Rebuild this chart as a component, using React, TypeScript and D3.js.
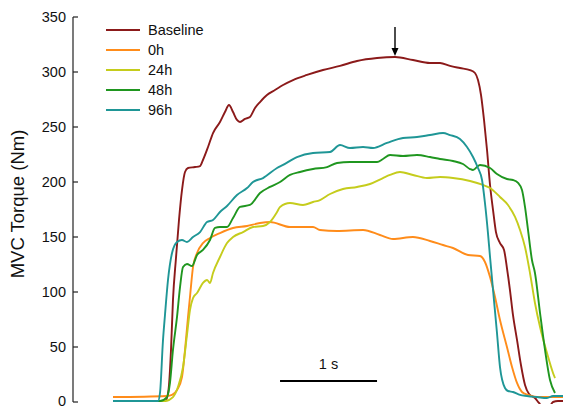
import React from "react";
import * as d3 from "d3";

type Pt = [number, number];

const seriesNames = ["Baseline", "0h", "24h", "48h", "96h"];
const seriesColors = ["#8b1a1a", "#ff8c1a", "#c5cc1c", "#1f961f", "#1f9696"];

const baseline: Pt[] = [[0,0.9],[0.372,0.9],[0.553,0.9],[0.574,3.6],[0.596,15.5],[0.617,47.3],[0.638,92.7],[0.670,130.9],[0.702,165.5],[0.734,192.7],[0.766,209.1],[0.798,212.7],[0.872,213.6],[0.926,214.5],[0.957,220],[1.011,231.8],[1.064,244.5],[1.138,254.5],[1.191,263.6],[1.234,270],[1.277,263.6],[1.319,256.4],[1.351,254.5],[1.404,257.3],[1.457,259.1],[1.511,267.3],[1.564,272.7],[1.638,279.1],[1.723,283.6],[1.809,288.2],[1.915,292.7],[2.064,297.3],[2.234,301.8],[2.415,305.5],[2.596,310],[2.809,312.7],[3.0,313.6],[3.191,310.9],[3.372,308.2],[3.479,308.2],[3.585,305.5],[3.691,303.6],[3.798,301.8],[3.851,299.1],[3.883,292.7],[3.915,279.1],[3.947,256.4],[3.979,229.1],[4.011,197.3],[4.043,174.5],[4.074,154.5],[4.117,144.5],[4.160,138.2],[4.191,121.8],[4.223,101.8],[4.255,79.1],[4.298,56.4],[4.340,33.6],[4.383,15.5],[4.426,7.3],[4.489,3.6],[4.532,-0.9],[4.574,-4.5],[4.638,-4.5],[4.681,0],[4.734,0.9],[4.787,0.9]];

const h0: Pt[] = [[0,4.5],[0.574,5.5],[0.628,6.4],[0.681,10.9],[0.734,22.7],[0.766,47.3],[0.798,77.3],[0.819,95.5],[0.851,122.7],[0.894,135.5],[0.957,144.5],[1.032,149.1],[1.138,153.6],[1.277,158.2],[1.426,160],[1.564,162.7],[1.670,163.6],[1.883,159.1],[2.128,159.1],[2.202,156.4],[2.383,155.5],[2.660,156.4],[2.840,151.8],[2.979,148.2],[3.191,150],[3.372,146.4],[3.511,142.7],[3.617,140],[3.777,133.6],[3.904,132.7],[3.957,127.3],[4.011,113.6],[4.064,95.5],[4.117,74.5],[4.191,50],[4.245,31.8],[4.298,17.3],[4.351,9.1],[4.415,6.4],[4.511,4.5],[4.649,4.5],[4.787,4.5]];

const h24: Pt[] = [[0,0.9],[0.553,0.9],[0.638,4.5],[0.691,13.6],[0.745,31.8],[0.787,60.9],[0.819,83.6],[0.851,94.5],[0.894,99.1],[0.957,108.2],[1.0,110.9],[1.032,108.2],[1.064,117.3],[1.138,131.8],[1.213,144.5],[1.277,150],[1.383,154.5],[1.489,159.1],[1.596,160],[1.670,163.6],[1.745,172.7],[1.777,177.3],[1.883,180.9],[2.021,179.1],[2.128,181.8],[2.202,183.6],[2.309,189.1],[2.447,193.6],[2.596,195.5],[2.734,198.2],[2.872,203.6],[2.947,206.4],[3.053,209.1],[3.191,206.4],[3.340,203.6],[3.479,204.5],[3.617,203.6],[3.798,200.9],[3.936,197.3],[4.011,194.5],[4.117,186.4],[4.202,179.1],[4.277,168.2],[4.330,156.4],[4.383,140.9],[4.436,117.3],[4.489,90],[4.543,68.2],[4.617,44.5],[4.681,26.4],[4.702,21.8]];

const h48: Pt[] = [[0,0.9],[0.5,0.9],[0.574,4.5],[0.606,17.3],[0.638,47.3],[0.681,77.3],[0.713,104.5],[0.745,122.7],[0.787,125.5],[0.840,123.6],[0.894,133.6],[0.957,138.2],[1.032,147.3],[1.085,158.2],[1.138,159.1],[1.213,159.1],[1.277,167.3],[1.351,177.3],[1.457,179.1],[1.564,190],[1.670,195.5],[1.777,200],[1.883,206.4],[1.989,209.1],[2.128,211.8],[2.277,213.6],[2.383,217.3],[2.521,218.2],[2.809,218.2],[2.872,220.9],[2.947,224.5],[3.085,223.6],[3.234,224.5],[3.372,222.7],[3.479,220.9],[3.617,219.1],[3.723,216.4],[3.798,211.8],[3.830,210.9],[3.904,215.5],[4.011,212.7],[4.085,207.3],[4.191,202.7],[4.255,201.8],[4.309,199.1],[4.351,192.7],[4.383,177.3],[4.415,156.4],[4.457,129.1],[4.489,117.3],[4.543,80.9],[4.596,47.3],[4.649,20],[4.702,8.2]];

const h96: Pt[] = [[0,0.9],[0.479,0.9],[0.5,8.2],[0.532,56.4],[0.553,79.1],[0.585,110.9],[0.628,135.5],[0.681,145.5],[0.734,147.3],[0.787,145.5],[0.851,150],[0.926,154.5],[1.0,163.6],[1.064,165.5],[1.138,172.7],[1.213,178.2],[1.319,188.2],[1.426,194.5],[1.489,200],[1.596,203.6],[1.745,212.7],[1.809,215.5],[1.957,222.7],[2.128,226.4],[2.309,227.3],[2.415,233.6],[2.521,230.9],[2.660,231.8],[2.766,230.9],[2.915,235.5],[3.085,240],[3.234,240.9],[3.372,242.7],[3.511,244.5],[3.585,242.7],[3.691,239.1],[3.766,231.8],[3.830,222.7],[3.883,212.7],[3.926,201.8],[3.957,180.9],[3.989,153.6],[4.011,131.8],[4.043,101.8],[4.085,62.7],[4.117,31.8],[4.170,12.7],[4.202,10],[4.255,9.1],[4.330,6.4],[4.404,5.5],[4.511,4.5],[4.617,3.6],[4.681,5.5],[4.787,5.5]];

const seriesData: Pt[][] = [baseline, h0, h24, h48, h96];
const yTicks = [0, 50, 100, 150, 200, 250, 300, 350];
const peakTime = 3.0;
const scaleBarStart = 1.777;
const scaleBarLength = 1;
const scaleBarLabel = "1 s";
const yTitle = "MVC Torque (Nm)";

export default function App() {
  const W = 563, H = 408;
  const x = d3.scaleLinear().domain([0, 4.8]).range([113, 113 + 4.8 * 94]);
  const y = d3.scaleLinear().domain([0, 350]).range([402, 17]);
  const line = d3.line<Pt>().x(d => x(d[0])).y(d => y(d[1])).curve(d3.curveMonotoneX);
  const font = "'Liberation Sans', Arial, sans-serif";
  const axisX = 73;
  const ax = x(peakTime);
  const bx0 = x(scaleBarStart), bx1 = x(scaleBarStart + scaleBarLength);
  return (
    <svg width={W} height={H} style={{ position: "absolute", left: 0, top: 0, background: "#fff" }} fontFamily={font}>
      <defs>
        <clipPath id="plotclip"><rect x={74} y={0} width={W - 74} height={404} /></clipPath>
      </defs>
      <line x1={axisX} x2={axisX} y1={y(350)} y2={y(0)} stroke="#222" strokeWidth={1.2} />
      {yTicks.map(t => (
        <g key={t}>
          <line x1={axisX} x2={axisX + 5} y1={y(t)} y2={y(t)} stroke="#222" strokeWidth={1.2} />
          <text x={66} y={y(t)} dy={t === 0 ? "0.3em" : "0.36em"} textAnchor="end" fontSize={14.5} fill="#111">{t}</text>
        </g>
      ))}
      <text transform={`translate(24,${y(180)}) rotate(-90)`} textAnchor="middle" fontSize={18.5} fill="#111">{yTitle}</text>
      <g clipPath="url(#plotclip)">
        {seriesData.map((d, i) => (
          <path key={i} d={line(d) || ""} fill="none" stroke={seriesColors[i]} strokeWidth={1.9} strokeLinejoin="round" />
        ))}
      </g>
      {seriesNames.map((n, i) => (
        <g key={n} transform={`translate(106,${30 + i * 20})`}>
          <line x1={0} x2={34} y1={0} y2={0} stroke={seriesColors[i]} strokeWidth={2} />
          <text x={42} y={0} dy="0.36em" fontSize={14.5} fill="#111">{n}</text>
        </g>
      ))}
      <line x1={ax} x2={ax} y1={27} y2={49} stroke="#000" strokeWidth={1.4} />
      <path d={`M${ax - 3.5},${48} L${ax + 3.5},${48} L${ax},${56} Z`} fill="#000" />
      <line x1={bx0} x2={bx1 + 3} y1={381} y2={381} stroke="#000" strokeWidth={2} />
      <text x={(bx0 + bx1 + 3) / 2} y={369} textAnchor="middle" fontSize={14.5} fill="#111">{scaleBarLabel}</text>
    </svg>
  );
}
